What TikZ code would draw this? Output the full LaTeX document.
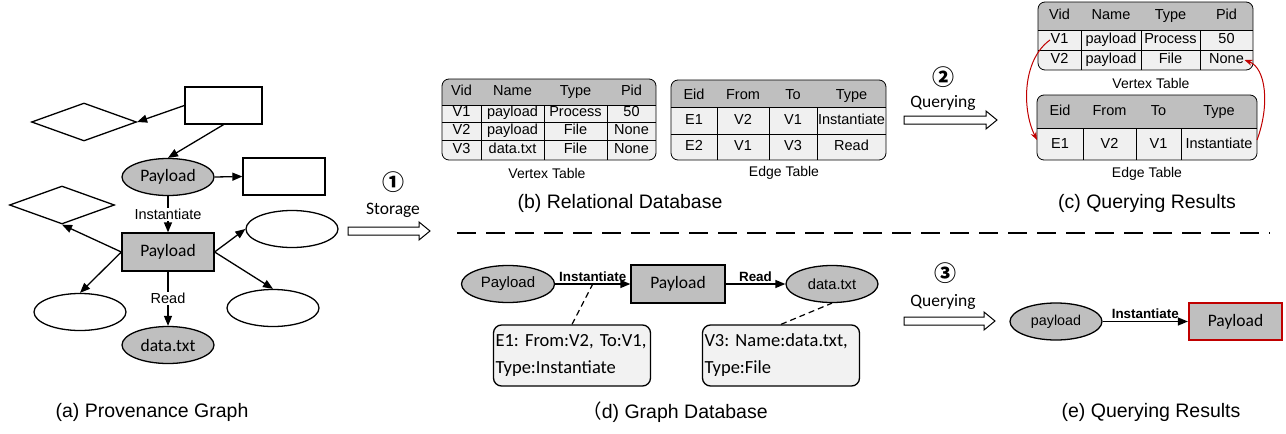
\documentclass[tikz,border=0pt]{standalone}
\usepackage{fontspec}
\setmainfont{Liberation Sans}
\newfontfamily\cali{Carlito}
\newfontfamily\cjk{Noto Sans CJK SC}
\usetikzlibrary{shapes.geometric,arrows.meta,calc}
\definecolor{nodegray}{HTML}{BFBFBF}
\definecolor{cellgray}{HTML}{F0F0F0}
\definecolor{notegray}{HTML}{F2F2F2}
\definecolor{hitred}{HTML}{C00000}
\newcommand{\fs}[1]{\fontsize{#1}{#1}\selectfont}
% hollow block arrow: x start, x tip, y
\newcommand{\hollowarrow}[3]{%
  \draw[line width=1pt,fill=white] (#1,#3-4) -- (#2-11,#3-4) -- (#2-11,#3-9) -- (#2,#3)
    -- (#2-11,#3+9) -- (#2-11,#3+4) -- (#1,#3+4) -- cycle;}
\begin{document}
\begin{tikzpicture}[x=1pt,y=-1pt,>={Triangle[length=10pt,width=8pt]},line width=1.3pt,
    ell/.style={ellipse,draw,minimum width=92pt,minimum height=37pt,inner sep=0pt},
    rbox/.style={rectangle,draw,inner sep=0pt},
    dia/.style={diamond,draw,minimum width=105pt,minimum height=38pt,inner sep=0pt,aspect=2.8},
    gfill/.style={fill=nodegray},
    lbl/.style={font=\fs{14.5},fill=white,inner sep=1pt},
    blbl/.style={font=\bfseries\fs{13.4},above=1pt,inner sep=1pt},
    tcell/.style={font=\fs{14.5},inner sep=0pt,text height=10pt,text depth=3pt},
    ttitle/.style={font=\fs{14}},
    captxt/.style={font=\fs{19.5}},
    steplbl/.style={font=\cali\fs{17.5}},
    num/.style={font=\cjk\bfseries\fs{22}},
    note/.style={draw,rounded corners=8pt,fill=notegray,font=\cali\fontsize{18.5}{27}\selectfont\frenchspacing,
      align=left,text width=153pt,inner sep=2pt,minimum height=61pt},
    tline/.style={line width=0.8pt}]
\useasboundingbox (0,0) rectangle (1286,434);

% (a) provenance graph
\node[dia] (d1) at (84,122) {};
\node[rbox,minimum width=77pt,minimum height=37pt] (r1) at (223.5,105.5) {};
\node[ell,gfill,font=\cali\fs{17.5}] (p1) at (168,177) {Payload};
\node[rbox,minimum width=82pt,minimum height=37pt] (r2) at (284,176.5) {};
\node[dia] (d2) at (62,205) {};
\node[rbox,gfill,minimum width=92pt,minimum height=38pt,font=\cali\fs{17.5}] (p2) at (168,252) {Payload};
\node[ell] (e1) at (292,229) {};
\node[ell] (e2) at (80,312) {};
\node[ell] (e3) at (273,308) {};
\node[ell,gfill,font=\cali\fs{17.5}] (f1) at (168,345) {data.txt};
\draw[->] (r1.west) -- (d1.east);
\draw[->] (r1.south) -- (p1.north);
\draw[->] (p1.east) -- (r2.west);
\draw[->] (p1.south) -- node[lbl] (ins) {Instantiate} (p2.north);
\draw[->] (p2.west) -- (d2.south);
\draw[->] (p2.west) -- (e2.north);
\draw[->] (p2.east) -- (e1.west);
\draw[->] (p2.east) -- (e3.north);
\draw[->] (p2.south) -- node[lbl] (rd) {Read} (f1.north);
\node[captxt] (capa) at (152,412) {(a) Provenance Graph};

% step 1
\node[num] (n1) at (393,182) {①};
\node[steplbl] (st) at (393,210) {Storage};
\hollowarrow{348}{430}{231}

% (b) relational database
\begin{scope}
  \clip[rounded corners=7pt] (442,79) rectangle (656,160);
  \fill[nodegray] (442,79) rectangle (656,105);
  \fill[cellgray] (442,105) rectangle (656,160);
  \draw[tline] (442,105) -- (656,105) (442,122) -- (656,122) (442,140) -- (656,140);
  \foreach \x in {481,544,607} \draw[tline] (\x,105) -- (\x,160);
\end{scope}
\draw[tline,rounded corners=7pt] (442,79) rectangle (656,160);
\foreach \x/\t [count=\i] in {461.5/Vid,512.5/Name,575.5/Type,631.5/Pid}
  \node[tcell] (vbh\i) at (\x,92) {\t};
\foreach \y/\a/\b/\c/\d [count=\j] in {113/V1/payload/Process/50,131/V2/payload/File/None,150/V3/data.txt/File/None}{
  \node[tcell] (vb\j1) at (461.5,\y) {\a};
  \node[tcell] (vb\j2) at (512.5,\y) {\b};
  \node[tcell] (vb\j3) at (575.5,\y) {\c};
  \node[tcell] (vb\j4) at (631.5,\y) {\d};
}
\begin{scope}
  \clip[rounded corners=7pt] (671,80) rectangle (886,160);
  \fill[nodegray] (671,80) rectangle (886,107);
  \fill[cellgray] (671,107) rectangle (886,160);
  \draw[tline] (671,107) -- (886,107) (671,134) -- (886,134);
  \foreach \x in {717,769,817} \draw[tline] (\x,107) -- (\x,160);
\end{scope}
\draw[tline,rounded corners=7pt] (671,80) rectangle (886,160);
\foreach \x/\t [count=\i] in {694/Eid,743/From,793/To,851.5/Type}
  \node[tcell] (ebh\i) at (\x,96) {\t};
\foreach \y/\a/\b/\c/\d [count=\j] in {121/E1/V2/V1/Instantiate,147/E2/V1/V3/Read}{
  \node[tcell] (eb\j1) at (694,\y) {\a};
  \node[tcell] (eb\j2) at (743,\y) {\b};
  \node[tcell] (eb\j3) at (793,\y) {\c};
  \node[tcell] (eb\j4) at (851.5,\y) {\d};
}
\node[ttitle] (vbt) at (547,173) {Vertex Table};
\node[ttitle] (ebt) at (784,173) {Edge Table};
\node[captxt] (capb) at (620,203) {(b) Relational Database};

% step 2
\node[num] (n2) at (943,77) {②};
\node[steplbl] (q2) at (943,103) {Querying};
\hollowarrow{904}{997}{120}

% (c) querying results
\begin{scope}
  \clip[rounded corners=7pt] (1038,2) rectangle (1253,70);
  \fill[nodegray] (1038,2) rectangle (1253,30);
  \fill[cellgray] (1038,30) rectangle (1253,70);
  \draw[tline] (1038,30) -- (1253,30) (1038,50) -- (1253,50);
  \foreach \x in {1081,1141,1200} \draw[tline] (\x,30) -- (\x,70);
\end{scope}
\draw[tline,rounded corners=7pt] (1038,2) rectangle (1253,70);
\foreach \x/\t [count=\i] in {1059.5/Vid,1111/Name,1170.5/Type,1226.5/Pid}
  \node[tcell] (vch\i) at (\x,16) {\t};
\foreach \y/\a/\b/\c/\d [count=\j] in {40/V1/payload/Process/50,60/V2/payload/File/None}{
  \node[tcell] (vc\j1) at (1059.5,\y) {\a};
  \node[tcell] (vc\j2) at (1111,\y) {\b};
  \node[tcell] (vc\j3) at (1170.5,\y) {\c};
  \node[tcell] (vc\j4) at (1226.5,\y) {\d};
}
\begin{scope}
  \clip[rounded corners=7pt] (1037,95) rectangle (1257,160);
  \fill[nodegray] (1037,95) rectangle (1257,128);
  \fill[cellgray] (1037,128) rectangle (1257,160);
  \draw[tline] (1037,128) -- (1257,128);
  \foreach \x in {1083,1136,1181} \draw[tline] (\x,128) -- (\x,160);
\end{scope}
\draw[tline,rounded corners=7pt] (1037,95) rectangle (1257,160);
\foreach \x/\t [count=\i] in {1060/Eid,1109.5/From,1158.5/To,1219/Type}
  \node[tcell] (ech\i) at (\x,112) {\t};
\node[tcell] (ec11) at (1060,145) {E1};
\node[tcell] (ec12) at (1109.5,145) {V2};
\node[tcell] (ec13) at (1158.5,145) {V1};
\node[tcell] (ec14) at (1219,145) {Instantiate};
\node[ttitle] (vct) at (1151,83) {Vertex Table};
\node[ttitle] (ect) at (1147,174) {Edge Table};
\node[captxt] (capc) at (1147,203) {(c) Querying Results};
\coordinate (e1in) at (1037,140);
\coordinate (insout) at (1257,140);
\draw[hitred,line width=1pt,-{Stealth[length=8pt,width=6pt]}] (vc11.west) .. controls (1022,60) and (1022,110) .. (e1in);
\draw[hitred,line width=1pt,-{Stealth[length=8pt,width=6pt]}] (insout) .. controls (1270,105) and (1266,68) .. (vc24.east);

% separator
\draw[dash pattern=on 19pt off 10pt,line width=1.5pt] (457,233) -- (1270,233);

% (d) graph database
\node[ell,gfill,minimum width=93pt,font=\fs{15}] (dp1) at (508,284) {Payload};
\node[rbox,gfill,minimum width=94pt,minimum height=38pt,font=\cali\fs{17.5}] (dp2) at (678,284) {Payload};
\node[ell,gfill,font=\fs{14.7}] (dd) at (832,284) {data.txt};
\draw[->] (dp1) -- node[blbl] (di) {Instantiate} (dp2);
\draw[->] (dp2) -- node[blbl] (dr) {Read} (dd);
\node[note] (ne) at (572,355.5) {E1: From:V2, To:V1,\\Type:Instantiate};
\node[note] (nv) at (781,355.5) {V3: Name:data.txt,\\Type:File};
\draw[dash pattern=on 6pt off 4pt,line width=1.2pt] (ne.north) -- ($(dp1.east)!.5!(dp2.west)$);
\draw[dash pattern=on 6pt off 4pt,line width=1.2pt] (nv.north) -- (dd.south);
\node[captxt] (capd) at (675,412) {{\cjk （}d) Graph Database};

% step 3
\node[num] (n3) at (945,273) {③};
\node[steplbl] (q3) at (943,302) {Querying};
\hollowarrow{904}{995}{321}

% (e) querying results
\node[ell,gfill,font=\fs{14.3}] (ep1) at (1056,321.5) {payload};
\node[rbox,gfill,draw=hitred,line width=2.2pt,minimum width=93pt,minimum height=37pt,font=\cali\fs{17.5}] (ep2) at (1235.5,321.5) {Payload};
\draw[->] (ep1) -- node[blbl] (ei) {Instantiate} (ep2);
\node[captxt] (cape) at (1151,412) {(e) Querying Results};
\end{tikzpicture}
\end{document}
